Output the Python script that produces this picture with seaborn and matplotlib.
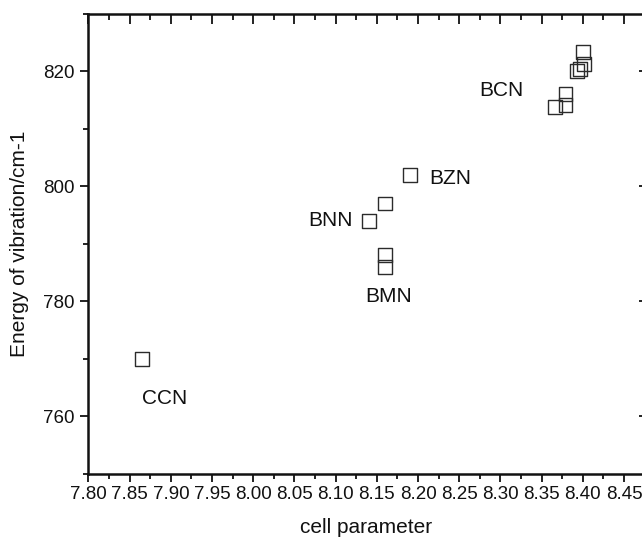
import matplotlib
matplotlib.use("Agg")
import matplotlib.pyplot as plt
import seaborn as sns
import pandas as pd
from matplotlib.ticker import MultipleLocator, NullLocator

sns.set_theme(style="white")
plt.rcParams['font.family'] = ['Liberation Sans', 'DejaVu Sans']

# data
cell_param = [7.865, 8.14, 8.16, 8.16, 8.16, 8.19,
              8.366, 8.379, 8.379, 8.393, 8.397, 8.402, 8.400]
energy = [770.0, 794.0, 797.0, 788.1, 786.0, 802.0,
          813.8, 814.1, 816.0, 820.1, 820.5, 821.3, 823.4]
labels = ["CCN", "BNN", "BMN", "BZN", "BCN"]
label_x = [7.893, 8.094, 8.164, 8.239, 8.301]
label_y = [763.1, 794.1, 780.8, 801.4, 816.6]
xticks = [7.80, 7.85, 7.90, 7.95, 8.00, 8.05, 8.10, 8.15, 8.20, 8.25, 8.30, 8.35, 8.40, 8.45]
yticks = [760, 780, 800, 820]

df = pd.DataFrame({"cell parameter": cell_param, "energy": energy})

fig = plt.figure(figsize=(6.42, 5.40), dpi=100)
ax = fig.add_axes([88.5 / 642, 1 - 473.5 / 540, (643.5 - 88.5) / 642, (473.5 - 14) / 540])

sns.scatterplot(data=df, x="cell parameter", y="energy", ax=ax, marker="s", s=100,
                facecolor="none", edgecolor="#2b2b2b", linewidth=1.0, legend=False)

for t, lx, ly in zip(labels, label_x, label_y):
    ax.text(lx, ly, t, ha="center", va="center", fontsize=15, color="#111111")

ax.set_xlim(7.80, 8.4737)
ax.set_ylim(750, 830)
ax.set_xticks(xticks)
ax.set_xticklabels([f"{v:.2f}" for v in xticks])
ax.set_yticks(yticks)
ax.set_yticklabels([str(v) for v in yticks])
ax.xaxis.set_minor_locator(MultipleLocator(0.025))
ax.yaxis.set_minor_locator(MultipleLocator(10))

ax.tick_params(axis="both", which="major", direction="out", length=6, width=1.3,
               labelsize=13.5, colors="#111111")
ax.tick_params(axis="x", which="major", pad=3)
ax.tick_params(axis="y", which="major", pad=4)
ax.tick_params(axis="both", which="minor", direction="out", length=3.5, width=1.3, colors="#111111")
ax.tick_params(bottom=True, left=True, top=False, right=False, which="both")

ax.set_xlabel("cell parameter", fontsize=15, labelpad=11, color="#111111")
ax.set_ylabel("Energy of vibration/cm-1", fontsize=15, labelpad=10, color="#111111")

for side in ["left", "bottom", "top", "right"]:
    ax.spines[side].set_visible(True)
    ax.spines[side].set_linewidth(1.8)
    ax.spines[side].set_color("#111111")

# top axis: inward ticks, no labels
top = ax.secondary_xaxis("top")
top.set_xticks(xticks)
top.xaxis.set_minor_locator(MultipleLocator(0.025))
top.tick_params(which="major", direction="in", length=7, width=1.3, labeltop=False, colors="#111111")
top.tick_params(which="minor", direction="in", length=4, width=1.3, colors="#111111")
top.spines["top"].set_visible(False)

# right axis: inward major ticks only
right = ax.secondary_yaxis("right")
right.set_yticks(yticks)
right.yaxis.set_minor_locator(NullLocator())
right.tick_params(which="major", direction="in", length=3.5, width=1.3, labelright=False, colors="#111111")
right.spines["right"].set_visible(False)

fig.savefig("out.png", dpi=100)
